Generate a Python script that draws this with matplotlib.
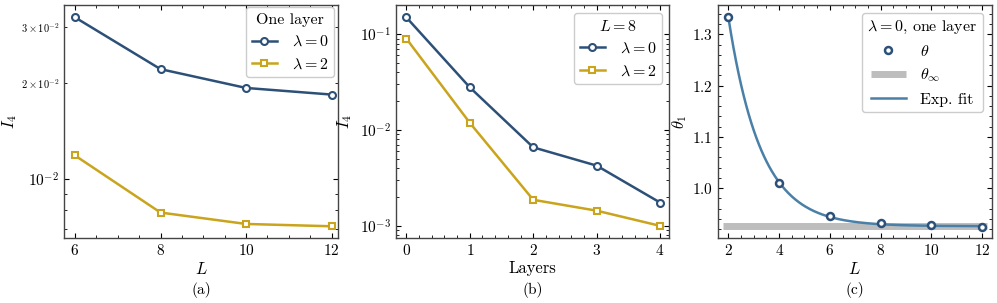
import numpy as np
import matplotlib
matplotlib.use("Agg")
import matplotlib.pyplot as plt
from matplotlib.ticker import AutoMinorLocator, MultipleLocator

plt.rcParams.update({
    "font.family": "serif",
    "font.serif": ["cmr10"],
    "mathtext.fontset": "cm",
    "axes.formatter.use_mathtext": True,
    "font.size": 11,
    "xtick.direction": "in",
    "ytick.direction": "in",
    "xtick.top": True,
    "ytick.right": True,
    "xtick.minor.visible": True,
    "ytick.minor.visible": True,
    "xtick.major.size": 3.5,
    "ytick.major.size": 3.5,
    "xtick.minor.size": 2,
    "ytick.minor.size": 2,
    "axes.edgecolor": "#444444",
    "axes.linewidth": 1.0,
    "legend.fancybox": True,
    "legend.edgecolor": "#cccccc",
    "legend.framealpha": 1.0,
    "legend.handlelength": 1.6,
    "legend.handletextpad": 0.9,
    "legend.borderpad": 0.35,
    "legend.borderaxespad": 0.0,
})

blue = "#2d5078"
gold = "#c9a41c"
fitblue = "#4a80a8"
grey = "#bdbdbd"

# (a) one layer, I4 vs L
L_a = [6, 8, 10, 12]
I4_lam0_a = [0.0321, 0.0221, 0.0193, 0.0184]
I4_lam2_a = [0.01186, 0.00786, 0.00724, 0.00712]

# (b) L = 8, I4 vs layers
layers = [0, 1, 2, 3, 4]
I4_lam0_b = [0.150, 0.0279, 0.0066, 0.00425, 0.00175]
I4_lam2_b = [0.090, 0.0119, 0.00187, 0.00144, 0.00100]

# (c) lambda = 0, one layer, theta vs L
L_c = [2, 4, 6, 8, 10, 12]
theta = [1.333, 1.0098, 0.9466, 0.9315, 0.9276, 0.925]
theta_inf = 0.926

fig = plt.figure(figsize=(9.97, 3.03), dpi=100)
ax1 = fig.add_axes([0.0645, 0.2129, 0.2745, 0.772])
ax2 = fig.add_axes([0.3972, 0.2129, 0.2738, 0.772])
ax3 = fig.add_axes([0.7199, 0.2129, 0.2748, 0.772])

lkw = dict(lw=1.8, ms=5, mew=1.5, markerfacecolor="white")
legkw = dict(loc="upper right", fontsize=11.5, title_fontsize=11.5)

ax1.plot(L_a, I4_lam0_a, "o-", color=blue, label=r"$\lambda=0$", **lkw)
ax1.plot(L_a, I4_lam2_a, "s-", color=gold, label=r"$\lambda=2$", **lkw)
ax1.set_yscale("log")
ax1.set_xlim(5.75, 12.15)
ax1.set_ylim(0.00652, 0.0352)
ax1.set_xticks([6, 8, 10, 12])
ax1.xaxis.set_minor_locator(AutoMinorLocator())
ax1.tick_params(axis="y", which="minor", labelsize=7.5)
ax1.set_xlabel(r"$L$", fontsize=12)
ax1.set_ylabel(r"$I_4$", fontsize=12)
ax1.yaxis.set_label_coords(-0.165, 0.5)
ax1.legend(title="One layer", bbox_to_anchor=(0.985, 0.989), **legkw)

ax2.plot(layers, I4_lam0_b, "o-", color=blue, label=r"$\lambda=0$", **lkw)
ax2.plot(layers, I4_lam2_b, "s-", color=gold, label=r"$\lambda=2$", **lkw)
ax2.set_yscale("log")
ax2.set_xlim(-0.163, 4.14)
ax2.set_ylim(7.38e-4, 0.204)
ax2.set_xticks(layers)
ax2.xaxis.set_minor_locator(AutoMinorLocator())
ax2.set_xlabel("Layers", fontsize=12)
ax2.set_ylabel(r"$I_4$", fontsize=12)
ax2.yaxis.set_label_coords(-0.154, 0.5)
ax2.legend(title=r"$L=8$", bbox_to_anchor=(0.974, 0.964), **legkw)

# exponential fit theta = theta_inf + A exp(-L/xi), from the data
Lc = np.array(L_c, dtype=float)
d = np.array(theta) - theta_inf
ok = d > 0
p = np.polyfit(Lc[ok], np.log(d[ok]), 1, w=d[ok])
Lfit = np.linspace(2, 12, 300)
theta_fit = theta_inf + np.exp(np.polyval(p, Lfit))

ax3.plot([1.8, 12.2], [theta_inf, theta_inf], color=grey, lw=5,
         solid_capstyle="butt", label=r"$\theta_\infty$", zorder=1)
ax3.plot(Lfit, theta_fit, color=fitblue, lw=1.8, label="Exp. fit", zorder=2)
ax3.plot(L_c, theta, "o", color=blue, ms=5, mew=1.8, markerfacecolor="white",
         label=r"$\theta$", zorder=3)
ax3.set_xlim(1.58, 12.38)
ax3.set_ylim(0.902, 1.358)
ax3.set_xticks([2, 4, 6, 8, 10, 12])
ax3.yaxis.set_major_locator(MultipleLocator(0.1))
ax3.xaxis.set_minor_locator(AutoMinorLocator())
ax3.yaxis.set_minor_locator(AutoMinorLocator())
ax3.set_xlabel(r"$L$", fontsize=12)
ax3.set_ylabel(r"$\theta_1$", fontsize=12)
ax3.yaxis.set_label_coords(-0.105, 0.5)
h, lab = ax3.get_legend_handles_labels()
order = [2, 0, 1]
ax3.legend([h[i] for i in order], [lab[i] for i in order],
           title=r"$\lambda=0$, one layer", bbox_to_anchor=(0.968, 0.964),
           handlelength=2.2, **legkw)

for ax, tag in zip([ax1, ax2, ax3], ["(a)", "(b)", "(c)"]):
    ax.xaxis.set_label_coords(0.5, -0.095)
    ax.text(0.5, -0.22, tag, transform=ax.transAxes, ha="center", va="center",
            fontsize=11)

fig.savefig("out.png", dpi=100)
